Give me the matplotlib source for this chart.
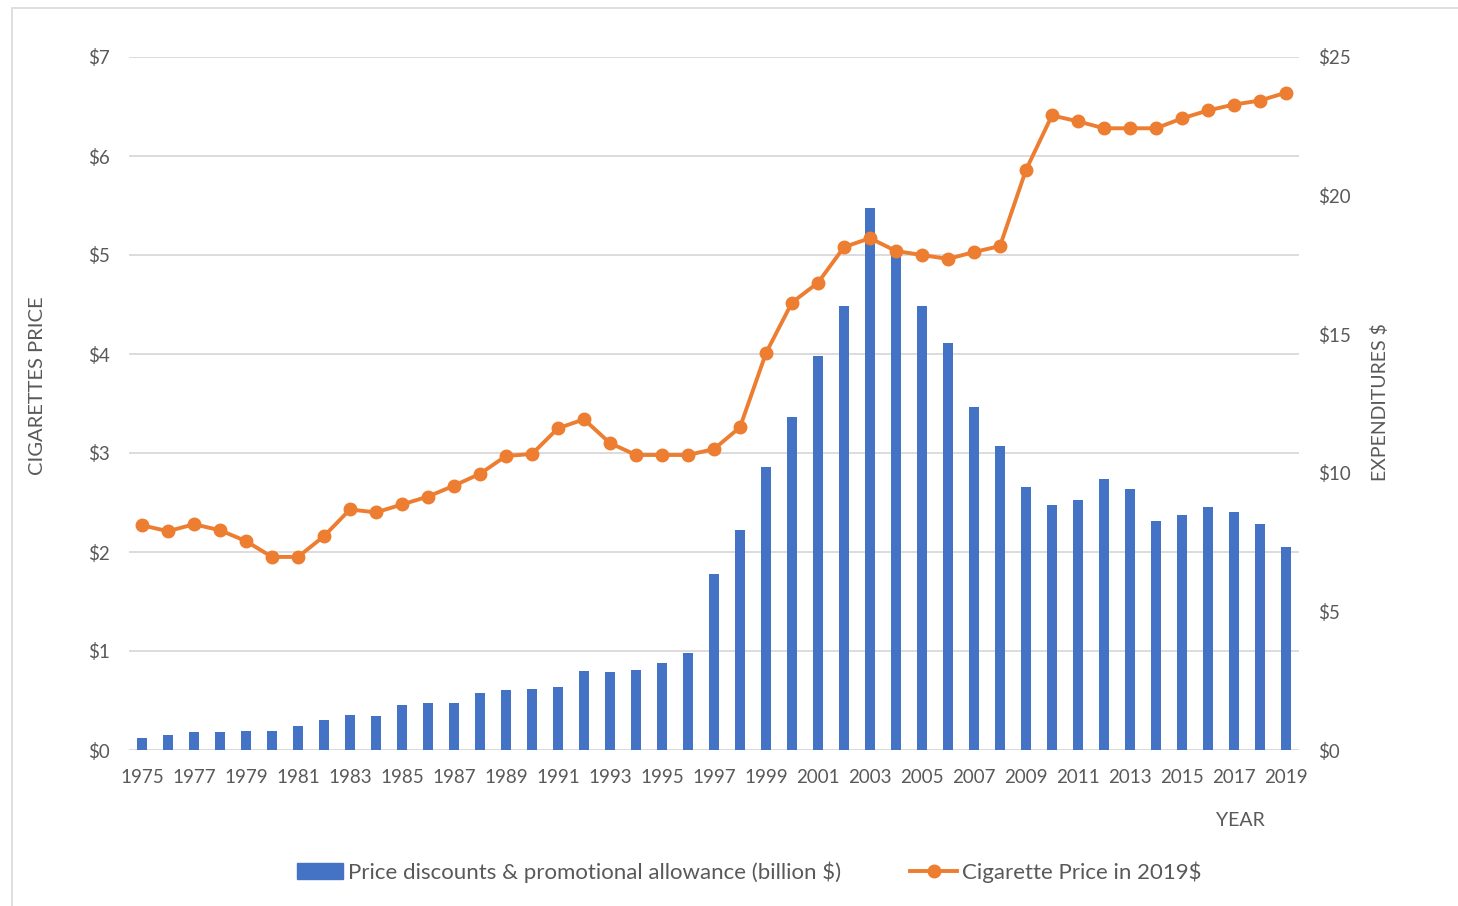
import numpy as np
import matplotlib
matplotlib.use("Agg")
import matplotlib.pyplot as plt
import matplotlib.patches as mpatches

years = list(range(1975, 2020))
# price discounts & promotional allowances, billion $ (right axis)
discounts = [0.43, 0.54, 0.65, 0.65, 0.70, 0.70, 0.85, 1.08, 1.25, 1.24, 1.62, 1.68,
             1.70, 2.05, 2.16, 2.19, 2.26, 2.84, 2.80, 2.89, 3.14, 3.51, 6.34, 7.94,
             10.22, 12.01, 14.20, 16.03, 19.56, 18.0, 16.02, 14.69, 12.38, 10.98,
             9.48, 8.83, 9.02, 9.78, 9.43, 8.25, 8.49, 8.77, 8.60, 8.17, 7.33]
# cigarette price in 2019$ (left axis)
price = [2.27, 2.21, 2.28, 2.22, 2.11, 1.95, 1.95, 2.16, 2.43, 2.40, 2.48, 2.56,
         2.67, 2.79, 2.97, 2.99, 3.25, 3.34, 3.10, 2.98, 2.98, 2.98, 3.04, 3.26,
         4.01, 4.52, 4.72, 5.08, 5.17, 5.04, 5.00, 4.96, 5.03, 5.09, 5.86, 6.41,
         6.35, 6.28, 6.28, 6.28, 6.38, 6.46, 6.52, 6.56, 6.64]
left_ticks = [0, 1, 2, 3, 4, 5, 6, 7]
right_ticks = [0, 5, 10, 15, 20, 25]

plt.rcParams['font.family'] = ['Lato', 'DejaVu Sans']
grey = '#595959'
blue = '#4472c4'
orange = '#ed7d31'

fig = plt.figure(figsize=(14.58, 9.06), dpi=100)
fig.patches.append(mpatches.Rectangle((12 / 1458, -0.05), 1.1, 0.05 + (906 - 8) / 906,
                                      transform=fig.transFigure, fill=False,
                                      edgecolor='#d9d9d9', linewidth=1.2))

rect = [129 / 1458, 156 / 906, (1299 - 129) / 1458, (750 - 57) / 906]
ax = fig.add_axes(rect)
x = np.arange(len(years))

ax.set_ylim(0, 7)
ax.set_yticks(left_ticks)
ax.set_yticklabels([f'${v}' for v in left_ticks])
ax.set_xlim(-0.5, len(years) - 0.5)
ax.set_xticks(x[::2])
ax.set_xticklabels([str(y) for y in years[::2]])
ax.grid(axis='y', color='#d9d9d9', linewidth=1.3)
ax.set_axisbelow(True)
ax.tick_params(length=0, labelsize=13.5, colors=grey)
ax.tick_params(axis='x', pad=14)
ax.tick_params(axis='y', pad=14)

ax2 = ax.twinx()
ax2.bar(x, discounts, width=0.4, color=blue, zorder=2)
ax2.set_ylim(0, 25)
ax2.set_yticks(right_ticks)
ax2.set_yticklabels([f'${v}' for v in right_ticks])
ax2.tick_params(length=0, labelsize=13.5, colors=grey, pad=14)

ax3 = ax.twinx()
ax3.plot(x, price, color=orange, linewidth=2.8, marker='o', markersize=9)
ax3.set_ylim(0, 7)
ax3.set_yticks([])

for a in (ax, ax2, ax3):
    for s in a.spines.values():
        s.set_visible(False)

fig.text(38 / 1458, (906 - 386) / 906, 'CIGARETTES PRICE', fontsize=14.5, color=grey,
         rotation=90, ha='center', va='center')
fig.text(1380 / 1458, (906 - 402) / 906, 'EXPENDITURES $', fontsize=14, color=grey,
         rotation=90, ha='center', va='center')
fig.text(1240 / 1458, (906 - 820) / 906, 'YEAR', fontsize=14, color=grey,
         ha='center', va='center')

handles = [mpatches.Patch(color=blue),
           plt.Line2D([], [], color=orange, linewidth=2.8, marker='o', markersize=9)]
labels = ['Price discounts & promotional allowance (billion $)', 'Cigarette Price in 2019$']
leg = fig.legend(handles, labels, loc='center', bbox_to_anchor=(749 / 1458, 34 / 906),
                 ncol=2, frameon=False, fontsize=16, handlelength=2.1,
                 handletextpad=0.22, columnspacing=3.1)
for t in leg.get_texts():
    t.set_color(grey)

fig.savefig('out.png', dpi=100)
